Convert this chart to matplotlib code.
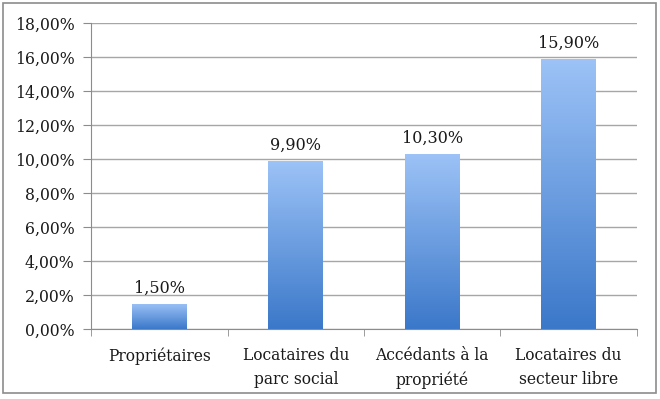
import matplotlib.pyplot as plt
import matplotlib.patches as mpatches
import numpy as np
from matplotlib.colors import LinearSegmentedColormap
from matplotlib.ticker import FuncFormatter

categories = ["Propriétaires", "Locataires du\nparc social", "Accédants à la\npropriété", "Locataires du\nsecteur libre"]
values = [1.5, 9.9, 10.3, 15.9]
yticks = [0, 2, 4, 6, 8, 10, 12, 14, 16, 18]

plt.rcParams['font.family'] = ['DejaVu Serif']

fig = plt.figure(figsize=(6.6, 3.99), dpi=100)
ax = fig.add_axes([0.138, 0.1754, 0.827, 0.7666])

# figure border
fig.patches.append(mpatches.Rectangle((0.005, 0.015), 0.989, 0.977, transform=fig.transFigure,
                                      fill=False, edgecolor="#8c8c8c", linewidth=1.2))

cmap = LinearSegmentedColormap.from_list("bar", ["#3b78c9", "#9dc3f7"])
grad = np.linspace(0, 1, 256).reshape(-1, 1)
width = 0.4
x = np.arange(len(categories))
for xi, v in zip(x, values):
    rect = ax.bar(xi, v, width=width, color="none", edgecolor="none", zorder=3)[0]
    im = ax.imshow(grad, cmap=cmap, aspect="auto", origin="lower",
                   extent=(xi - width / 2, xi + width / 2, 0, v), zorder=3)
    im.set_clip_path(rect)
    ax.text(xi, v + 0.4, f"{v:.2f}%".replace(".", ","), ha="center", va="bottom",
            fontsize=11.5, color="#1a1a1a")

ax.set_xlim(-0.5, len(categories) - 0.5)
ax.set_ylim(0, 18)
ax.set_yticks(yticks)
ax.yaxis.set_major_formatter(FuncFormatter(lambda v, p: f"{v:.2f}%".replace(".", ",")))
ax.set_xticks(x)
ax.set_xticklabels(categories, fontsize=11.2, color="#1a1a1a", linespacing=1.55)
ax.set_xticks(np.arange(len(categories) + 1) - 0.5, minor=True)
ax.tick_params(axis="x", which="major", length=0, pad=13)
ax.tick_params(axis="x", which="minor", length=5, color="#8c8c8c", direction="out")
ax.tick_params(axis="y", length=6, color="#8c8c8c", labelsize=11.3, labelcolor="#1a1a1a", pad=6)
ax.grid(axis="y", color="#a6a6a6", linewidth=1.0, zorder=0)
ax.set_axisbelow(True)
for s in ["top", "right"]:
    ax.spines[s].set_visible(False)
for s in ["left", "bottom"]:
    ax.spines[s].set_color("#8c8c8c")

fig.savefig("out.png", dpi=100)
